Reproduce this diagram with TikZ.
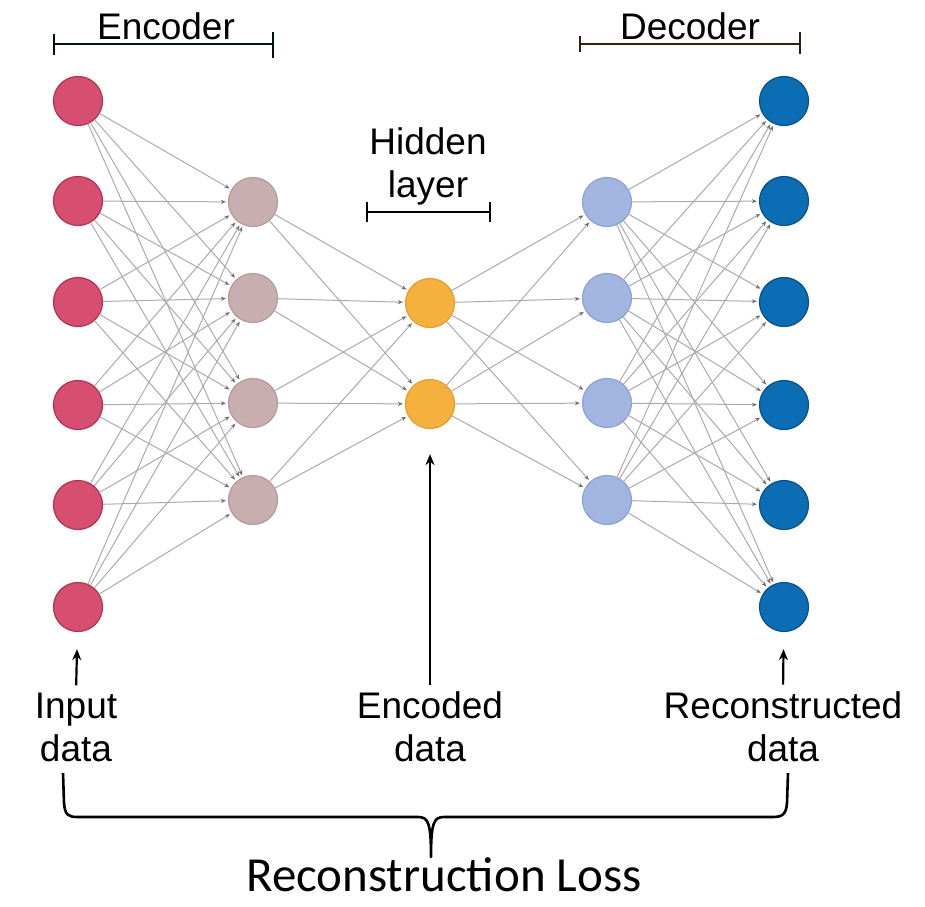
\documentclass[tikz,border=0pt]{standalone}
\usepackage{fontspec}
\setmainfont{Liberation Sans}
\newfontfamily\lossfont{Carlito}
\usetikzlibrary{arrows.meta}

\definecolor{inred}{HTML}{D64E70}
\definecolor{inredd}{HTML}{B0334F}
\definecolor{encfill}{HTML}{C8AEAE}
\definecolor{encdraw}{HTML}{B39B9B}
\definecolor{midfill}{HTML}{F4B13D}
\definecolor{middraw}{HTML}{E69E2A}
\definecolor{decfill}{HTML}{A2B5E0}
\definecolor{decdraw}{HTML}{8DA2D2}
\definecolor{outfill}{HTML}{0B6DB3}
\definecolor{outdraw}{HTML}{08508A}
\definecolor{wire}{HTML}{ABABAB}
\definecolor{wiretip}{HTML}{6E6E6E}

\tikzset{
  neuron/.style={circle, minimum size=49pt, inner sep=0pt, line width=1.2pt},
  inneuron/.style={neuron, fill=inred, draw=inredd},
  encneuron/.style={neuron, fill=encfill, draw=encdraw},
  midneuron/.style={neuron, fill=midfill, draw=middraw},
  decneuron/.style={neuron, fill=decfill, draw=decdraw},
  outneuron/.style={neuron, fill=outfill, draw=outdraw},
  wirearrow/.style={draw=wire, line width=1pt, shorten >=2pt,
    -{Stealth[length=5pt,width=4pt,color=wiretip]}},
  label/.style={font=\fontsize{37}{43}\selectfont, align=center, inner sep=0pt},
  rangebar/.style={line width=2.4pt},
  pointer/.style={line width=2.2pt, -{Stealth[length=11pt,width=9pt]}},
}

\begin{document}
\begin{tikzpicture}[x=1pt,y=-1pt]
\useasboundingbox (0,0) rectangle (925,906);

% input layer
\foreach \i/\y in {1/101,2/201,3/302,4/405,5/505,6/607}
  \node[inneuron] (i\i) at (78,\y) {};
% encoder layer
\foreach \i/\y in {1/202,2/298,3/403,4/500}
  \node[encneuron] (e\i) at (253,\y) {};
% code layer
\foreach \i/\y in {1/303,2/404}
  \node[midneuron] (h\i) at (430,\y) {};
% decoder layer
\foreach \i/\y in {1/202,2/298,3/403,4/500}
  \node[decneuron] (d\i) at (607,\y) {};
% output layer
\foreach \i/\y in {1/101,2/201,3/302,4/405,5/505,6/607}
  \node[outneuron] (o\i) at (784,\y) {};

% fully connected weights
\foreach \a in {1,...,6} \foreach \b in {1,...,4}
  \draw[wirearrow] (i\a) -- (e\b);
\foreach \a in {1,...,4} \foreach \b in {1,2}
  \draw[wirearrow] (e\a) -- (h\b);
\foreach \a in {1,2} \foreach \b in {1,...,4}
  \draw[wirearrow] (h\a) -- (d\b);
\foreach \a in {1,...,4} \foreach \b in {1,...,6}
  \draw[wirearrow] (d\a) -- (o\b);

% section headings with range bars
\node[label] (enc) at (166,26) {Encoder};
\draw[rangebar, draw=black!85!teal] (54,44) -- (273,44);
\draw[rangebar, draw=black!85!teal] (54,34) -- (54,55) (273,32) -- (273,58);

\node[label] (dec) at (690,26) {Decoder};
\draw[rangebar, draw=black!75!brown] (580,44) -- (800,44);
\draw[rangebar, draw=black!75!brown] (580,36) -- (580,52) (800,32) -- (800,54);

\node[label] (hid) at (428,166) {Hidden\\layer};
\draw[rangebar] (367,212) -- (490,212);
\draw[rangebar] (367,202) -- (367,222) (490,202) -- (490,222);

% data labels with pointers
\node[label] (inl) at (76,727) {Input\\data};
\node[label] (codel) at (430,727) {Encoded\\data};
\node[label] (outl) at (783,727) {Reconstructed\\data};
\draw[pointer, shorten <=7pt, shorten >=17pt] (inl.north) -- (i6);
\draw[pointer, shorten <=7pt, shorten >=25pt] (codel.north) -- (h2);
\draw[pointer, shorten <=7pt, shorten >=17pt] (outl.north) -- (o6);

% brace gathering the two data ends
\draw[line width=2.6pt, line join=round]
  (63,773) -- (64,803) .. controls (65,815) and (68,817) .. (78,817)
  -- (418,817) .. controls (428,817) and (431,822) .. (431,857)
  .. controls (431,822) and (434,817) .. (444,817)
  -- (772,817) .. controls (782,817) and (786,815) .. (787,803) -- (788,773);
\node[font=\lossfont\fontsize{49}{54}\selectfont, inner sep=0pt, anchor=base] (loss) at (444,891) {Reconstruction Loss};
\end{tikzpicture}
\end{document}
